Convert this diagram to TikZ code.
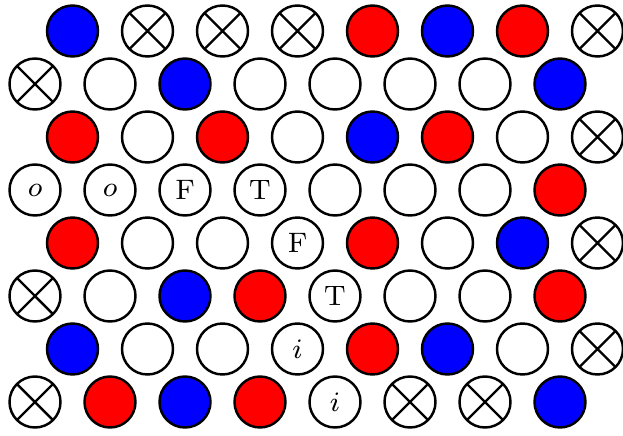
\documentclass[tikz,border=0pt]{standalone}
\usetikzlibrary{positioning}

\begin{document}
\begin{tikzpicture}[
  site/.style={
    circle, draw, line width=0.7pt, fill=white,
    minimum size=5.1mm, inner sep=0pt, outer sep=0pt,
    font=\footnotesize
  },
  emp/.style={},
  occR/.style={fill=red},
  occB/.style={fill=blue},
  blk/.style={
    path picture={
      \draw[line width=0.7pt] (path picture bounding box.north west) -- (path picture bounding box.south east)
                       (path picture bounding box.north east) -- (path picture bounding box.south west);
    }
  },
  txo/.style={label={[font=\footnotesize]center:$o$}},
  txi/.style={label={[font=\footnotesize]center:$i$}},
  txF/.style={label={[font=\footnotesize]center:F}},
  txT/.style={label={[font=\footnotesize]center:T}}
]

\useasboundingbox (-0.35,0.31) rectangle (5.88,-4.04);

% ================= Lattice: rows top to bottom =================
\foreach \row/\cells in {
    1/{occB,blk,blk,blk,occR,occB,occR,blk},
    2/{blk,emp,occB,emp,emp,emp,emp,occB},
    3/{occR,emp,occR,emp,occB,occR,emp,blk},
    4/{txo,txo,txF,txT,emp,emp,emp,occR},
    5/{occR,emp,emp,txF,occR,emp,occB,blk},
    6/{blk,emp,occB,occR,txT,emp,emp,occR},
    7/{occB,emp,emp,txi,occR,occB,emp,blk},
    8/{blk,occR,occB,occR,txi,blk,blk,occB}}{
  \pgfmathsetmacro{\xoff}{mod(\row,2)*0.375}
  \pgfmathsetmacro{\ypos}{-(\row-1)*0.53}
  \foreach \t [count=\c] in \cells {
    \node[site, \t] (n\row-\c) at ({\xoff+(\c-1)*0.75},\ypos) {};
  }
}

\end{tikzpicture}
\end{document}
